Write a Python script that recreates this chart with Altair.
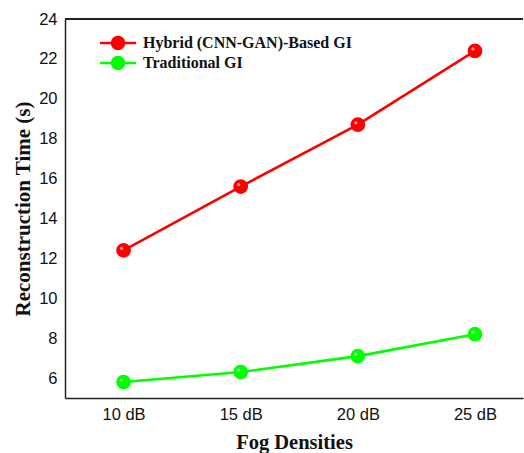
import altair as alt
import pandas as pd

fog_db = [10, 15, 20, 25]
hybrid = [12.4, 15.6, 18.7, 22.4]
traditional = [5.8, 6.3, 7.1, 8.2]
series_names = ["Hybrid (CNN-GAN)-Based GI", "Traditional GI"]
series_colors = ["#ff0000", "#00ff00"]

rows = []
for x, h, t in zip(fog_db, hybrid, traditional):
    rows.append({"fog": x, "time": h, "series": series_names[0]})
    rows.append({"fog": x, "time": t, "series": series_names[1]})
df = pd.DataFrame(rows)

x_enc = alt.X(
    "fog:Q",
    scale=alt.Scale(domain=[7.5, 27.05], nice=False, zero=False),
    axis=alt.Axis(
        values=fog_db,
        labelExpr="datum.value + ' dB'",
        title="Fog Densities",
        grid=False,
        ticks=False,
        labelPadding=8,
        titlePadding=10,
        labelFontSize=16.5,
        titleFontSize=20.5,
    ),
)
y_enc = alt.Y(
    "time:Q",
    scale=alt.Scale(domain=[5, 24], nice=False, zero=False),
    axis=alt.Axis(
        values=[6, 8, 10, 12, 14, 16, 18, 20, 22, 24],
        title="Reconstruction Time (s)",
        grid=False,
        ticks=False,
        labelPadding=8,
        titlePadding=5,
        labelFontSize=16.5,
        titleFontSize=21,
    ),
)

color_scale = alt.Scale(domain=series_names, range=series_colors)

legend_path = (
    "M-3,0H-1 M1,0H3 "
    "M1,0A1,1 0 1,1 -1,0A1,1 0 1,1 1,0Z"
)


def make_legend():
    return alt.Legend(
        title=None,
        orient="none",
        legendX=45,
        legendY=16,
        symbolType=legend_path,
        symbolSize=144,
        symbolStrokeWidth=2.5,
        labelOffset=17,
        rowPadding=-2,
        labelLimit=400,
        labelFont="Liberation Serif",
        labelFontWeight="bold",
        labelFontSize=16,
        labelColor="#111111",
        padding=0,
    )


lines = alt.Chart(df).mark_line(strokeWidth=2.6).encode(
    x=x_enc,
    y=y_enc,
    stroke=alt.Stroke("series:N", scale=color_scale, legend=make_legend()),
    detail="series:N",
)

points = alt.Chart(df).mark_point(filled=True, size=150, opacity=1, strokeWidth=2.5).encode(
    x=x_enc,
    y=y_enc,
    fill=alt.Fill("series:N", scale=color_scale, legend=make_legend()),
    stroke=alt.Stroke("series:N", scale=color_scale, legend=make_legend()),
)

highlight = alt.Chart(df).mark_circle(
    color="white", opacity=0.6, size=10, xOffset=-2, yOffset=-2
).encode(x=x_enc, y=y_enc)

top_rule = alt.Chart(df).mark_rule(color="#222222", strokeWidth=1.5).encode(
    y=alt.datum(24)
)

chart = (
    alt.layer(top_rule, lines, points, highlight)
    .properties(
        width=458,
        height=379,
        autosize=alt.AutoSizeParams(type="none"),
        padding={"left": 65, "top": 19, "right": 1, "bottom": 55},
        background="white",
    )
    .configure_view(stroke=None)
    .configure_axis(
        domainColor="#222222",
        domainWidth=1.5,
        labelFont="Liberation Sans",
        labelColor="#111111",
        titleFont="Liberation Serif",
        titleFontWeight="bold",
        titleColor="#111111",
    )
)

chart.save("out.html", embed_options={"renderer": "svg", "actions": False})
